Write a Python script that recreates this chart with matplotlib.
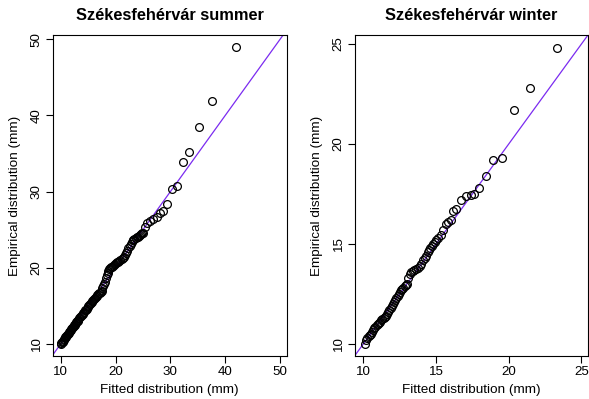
import numpy as np
import matplotlib
matplotlib.use('Agg')
import matplotlib.pyplot as plt

plt.rcParams['font.family'] = ['Liberation Sans', 'DejaVu Sans']

# summer: fitted quantiles vs empirical quantiles (mm)
summer_fit = [10.05,10.15,10.25,10.35,10.45,10.55,10.65,10.75,10.85,10.95,
              11.05,11.15,11.25,11.35,11.45,11.55,11.65,11.75,11.85,11.95,
              12.05,12.15,12.25,12.35,12.45,12.55,12.65,12.75,12.85,12.95,
              13.1,13.25,13.4,13.55,13.7,13.85,14.0,14.15,14.3,14.45,
              14.6,14.75,14.9,15.05,15.2,15.35,15.5,15.65,15.8,15.95,
              16.1,16.25,16.4,16.55,16.7,16.85,17.0,17.15,17.3,17.45,
              17.6,17.8,17.95,18.1,18.25,18.4,18.55,18.7,18.85,19.0,
              19.15,19.3,19.5,19.7,19.9,20.1,20.3,20.5,20.7,20.9,
              21.1,21.3,21.5,21.7,21.9,22.1,22.35,22.6,22.8,22.95,
              23.1,23.25,23.45,23.65,23.85,24.05,24.25,24.45,24.65,24.85,
              25.1,25.4,25.7,26.3,26.9,27.5,28.1,28.7,29.33,30.24,
              31.15,32.25,33.47,35.23,37.6,41.98]
summer_emp = [10.0,10.1,10.2,10.3,10.4,10.5,10.6,10.75,10.85,10.95,
              11.05,11.15,11.25,11.35,11.45,11.55,11.65,11.75,11.85,11.95,
              12.05,12.15,12.25,12.35,12.45,12.55,12.65,12.75,12.85,12.95,
              13.05,13.2,13.35,13.5,13.65,13.8,13.95,14.1,14.25,14.4,
              14.5,14.65,14.8,14.95,15.1,15.25,15.4,15.5,15.65,15.8,
              15.9,16.05,16.2,16.3,16.45,16.55,16.65,16.75,16.85,17.0,
              17.3,17.6,17.9,18.2,18.6,19.0,19.3,19.6,19.8,20.0,
              20.1,20.15,20.3,20.4,20.5,20.6,20.7,20.8,20.9,21.0,
              21.1,21.25,21.45,21.7,21.95,22.2,22.55,22.85,23.1,23.45,
              23.6,23.7,23.8,23.9,24.0,24.1,24.2,24.3,24.45,24.55,
              24.6,25.4,25.85,26.1,26.4,26.7,27.15,27.4,28.4,30.3,
              30.8,33.85,35.2,38.5,41.9,48.95]

# winter
winter_fit = [10.12,10.2,10.28,10.36,10.44,10.52,10.6,10.68,10.76,10.84,
              10.92,11.0,11.08,11.16,11.24,11.32,11.4,11.48,11.56,11.64,
              11.72,11.8,11.88,11.96,12.04,12.12,12.2,12.28,12.36,12.44,
              12.52,12.6,12.68,12.76,12.84,12.92,13.0,13.1,13.2,13.3,
              13.4,13.5,13.62,13.75,13.88,14.0,14.12,14.22,14.32,14.42,
              14.52,14.62,14.72,14.82,14.92,15.0,15.15,15.32,15.5,15.68,
              15.84,16.0,16.18,16.37,16.69,17.05,17.38,17.62,17.99,18.42,
              18.91,19.53,20.33,21.45,23.35]
winter_emp = [10.0,10.2,10.3,10.4,10.45,10.5,10.6,10.7,10.8,10.85,
              10.95,11.0,11.05,11.1,11.2,11.25,11.3,11.35,11.4,11.5,
              11.6,11.7,11.8,11.9,12.0,12.1,12.2,12.3,12.4,12.5,
              12.6,12.7,12.75,12.8,12.9,12.95,13.0,13.3,13.5,13.6,
              13.65,13.7,13.75,13.8,13.9,14.0,14.2,14.3,14.4,14.6,
              14.7,14.8,14.9,15.0,15.1,15.2,15.3,15.45,15.7,16.0,
              16.1,16.2,16.65,16.75,17.2,17.4,17.45,17.5,17.8,18.4,
              19.2,19.3,21.7,22.8,24.8]

panels = [
    ('Székesfehérvár summer', summer_fit, summer_emp, (8.55, 51.22), (8.42, 50.57), [10, 20, 30, 40, 50]),
    ('Székesfehérvár winter', winter_fit, winter_emp, (9.43, 25.45), (9.40, 25.45), [10, 15, 20, 25]),
]
boxes = [[0.0895, 0.1078, 0.3973, 0.8045], [0.6027, 0.1078, 0.3956, 0.8045]]

fig = plt.figure(figsize=(5.89, 3.99), dpi=100)

for (title, fit, emp, xl, yl, ticks), box in zip(panels, boxes):
    ax = fig.add_axes(box)
    ax.plot([0, 100], [0, 100], c='#7b2bf0', lw=0.9, zorder=1)
    ax.plot(fit, emp, ls='none', marker='o', ms=5.6, mfc='none', mec='k', mew=0.9, zorder=2)
    ax.set_xlim(xl)
    ax.set_ylim(yl)
    ax.set_xticks(ticks)
    ax.set_yticks(ticks)
    ax.tick_params(direction='out', length=4.8, width=0.8, labelsize=9.6, pad=2.5)
    for lab in ax.get_yticklabels():
        lab.set_rotation(90)
        lab.set_va('center')
    for s in ax.spines.values():
        s.set_linewidth(0.8)
    ax.set_title(title, fontsize=11.8, fontweight='bold', pad=10.5)
    ax.set_xlabel('Fitted distribution (mm)', fontsize=9.7, labelpad=4)
    ax.set_ylabel('Empirical distribution (mm)', fontsize=9.7, labelpad=7)

fig.savefig('out.png', dpi=100)
